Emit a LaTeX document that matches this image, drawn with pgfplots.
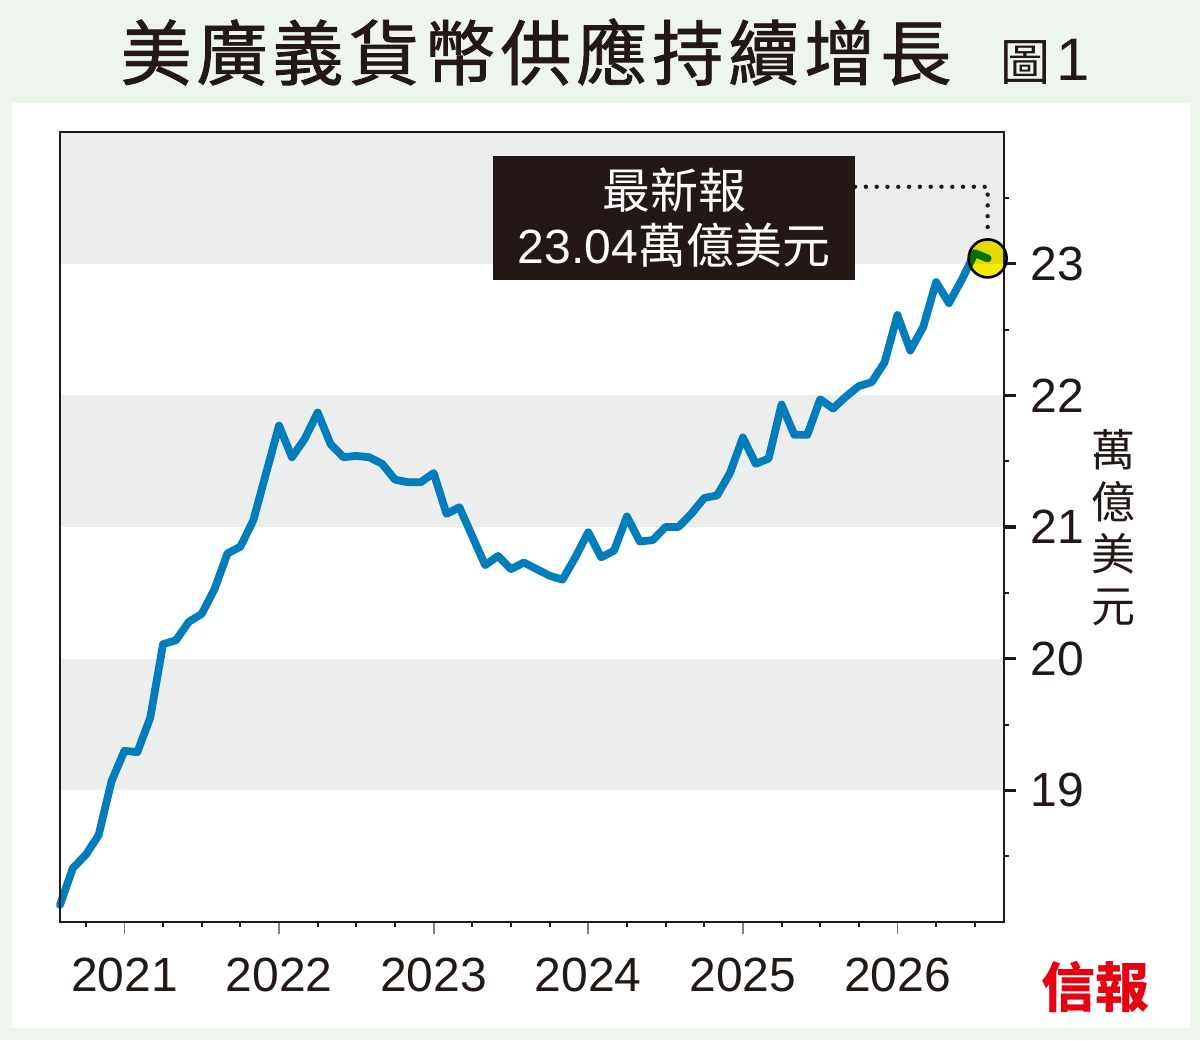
\documentclass[border=0pt]{standalone}
\usepackage{fontspec}
\setmainfont{Liberation Sans}
\newfontfamily\cjk{Noto Sans CJK TC}
\newfontfamily\cjktitle{Noto Sans CJK TC}[FakeBold=1.2, LetterSpace=7]
\usepackage{pgfplots}
\usepackage{pgfplotstable}
\pgfplotsset{compat=1.18}
\definecolor{bgmint}{RGB}{237,245,237}
\definecolor{bandgray}{RGB}{236,238,237}
\definecolor{lineblue}{RGB}{0,125,186}
\definecolor{boxdark}{RGB}{35,24,21}
\definecolor{markyellow}{RGB}{247,234,0}
\definecolor{logored}{RGB}{230,0,18}
\definecolor{txt}{RGB}{35,24,21}

% month index (0 = first month shown; 5 = Jan 2021), value in 10^12 USD
\pgfplotstableread{
i y
0 18.13
1 18.41
2 18.51
3 18.66
4 19.07
5 19.30
6 19.29
7 19.55
8 20.11
9 20.14
10 20.28
11 20.34
12 20.53
13 20.80
14 20.85
15 21.05
16 21.41
17 21.77
18 21.53
19 21.67
20 21.87
21 21.63
22 21.53
23 21.54
24 21.53
25 21.48
26 21.36
27 21.34
28 21.34
29 21.41
30 21.10
31 21.15
32 20.93
33 20.71
34 20.78
35 20.68
36 20.73
37 20.68
38 20.63
39 20.60
40 20.77
41 20.96
42 20.77
43 20.82
44 21.08
45 20.89
46 20.90
47 21.00
48 21.00
49 21.10
50 21.22
51 21.24
52 21.41
53 21.68
54 21.48
55 21.52
56 21.93
57 21.70
58 21.70
59 21.97
60 21.90
61 21.99
62 22.07
63 22.10
64 22.25
65 22.61
66 22.34
67 22.52
68 22.86
69 22.70
70 22.88
71 23.08
72 23.04
}\datatable

\begin{document}
\begin{tikzpicture}
% background
\fill[bgmint] (0,0) rectangle (600pt,520pt);
\fill[white] (6pt,6pt) rectangle (595pt,468.5pt);
% title
\node[font=\cjktitle\fontsize{35.5}{35.5}\selectfont, text=txt, anchor=center] at (268pt,494pt) {美廣義貨幣供應持續增長};
\node[text=txt, anchor=base west, inner sep=0pt] at (500pt,479.5pt) {{\cjk\fontsize{25}{25}\selectfont 圖}\hspace{3pt}{\fontsize{30}{30}\selectfont 1}};
% logo
\node[text=logored, font=\cjk\bfseries\fontsize{27}{27}\selectfont] at (547.5pt,26.5pt) {信報};
% right axis label
\node[font=\cjk\fontsize{22}{26}\selectfont, text=txt, align=center] at (556.5pt,256pt) {萬\\億\\美\\元};

\begin{axis}[
  at={(30pt,59pt)}, anchor=south west,
  scale only axis, width=472pt, height=395pt,
  xmin=0, xmax=73.27, ymin=18, ymax=24,
  clip=false, axis on top=true,
  axis line style={line width=1.3pt, color=txt},
  xtick={5,17,29,41,53,65},
  xticklabels={2021,2022,2023,2024,2025,2026},
  minor xtick={2,8,11,14,20,23,26,32,35,38,44,47,50,56,59,62,68,71},
  ytick={19,20,21,22,23},
  minor ytick={18.5,19.5,20.5,21.5,22.5,23.5},
  xtick pos=left, ytick pos=right, yticklabel pos=right,
  tick align=outside,
  major tick length=6pt, minor tick length=2.5pt,
  major x tick style={draw=gray, line width=0.9pt},
  minor x tick style={draw=txt, line width=1pt},
  major y tick style={draw=txt, line width=1.8pt},
  minor y tick style={draw=txt, line width=1pt},
  /pgf/number format/assume math mode=true,
  ticklabel style={font=\fontsize{24}{24}\selectfont, text=txt},
  xticklabel style={inner sep=0pt, yshift=-12pt},
  yticklabel style={inner sep=0pt, xshift=7pt},
]
\fill[bandgray] (axis cs:0,23) rectangle (axis cs:73.27,24);
\fill[bandgray] (axis cs:0,21) rectangle (axis cs:73.27,22);
\fill[bandgray] (axis cs:0,19) rectangle (axis cs:73.27,20);

\addplot[lineblue, line width=3.9pt, line join=round, line cap=round, no marks] table[x=i, y=y] {\datatable};

% dotted leader
\draw[txt, line width=2.2pt, line cap=round, dash pattern=on 0pt off 5.4pt] (axis cs:61.71,23.584) -- (axis cs:72,23.584) -- (axis cs:72,23.20);

% latest point
\addplot[only marks, mark=*, mark size=9.5pt, blend mode=multiply,
  mark options={fill=markyellow, draw=black, line width=1.3pt, blend mode=multiply}]
  coordinates {(72,23.04)};

% annotation box
\node[fill=boxdark, text=white, minimum width=181pt, minimum height=62pt, inner sep=0pt, align=center,
  font=\fontsize{24}{27.5}\selectfont] at (axis cs:47.66,23.35) {{\cjk 最新報}\\23.04{\cjk 萬億美元}};
\end{axis}
\pgfresetboundingbox
\useasboundingbox (0,0) rectangle (600pt,520pt);
\end{tikzpicture}
\end{document}
